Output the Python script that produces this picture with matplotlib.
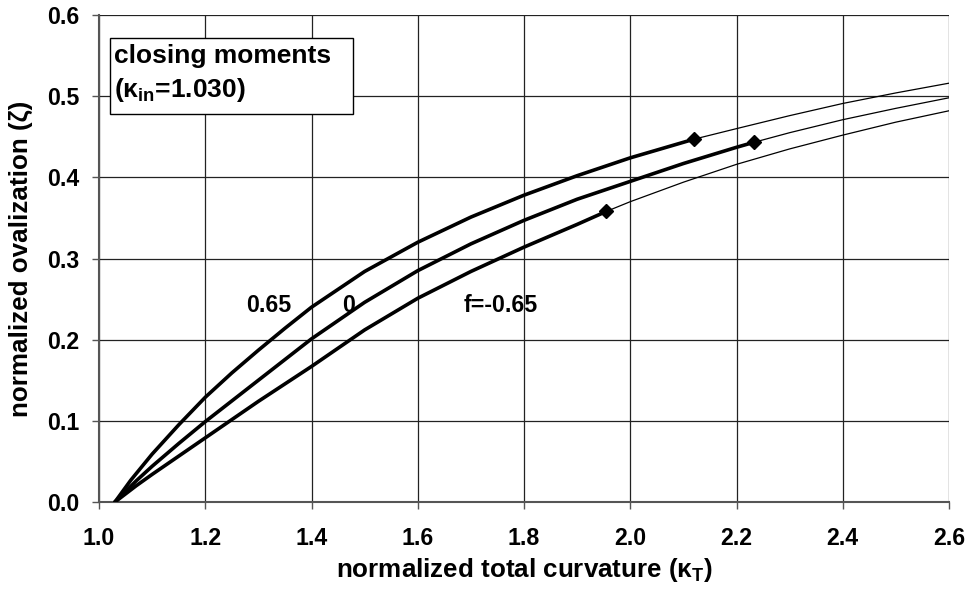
import matplotlib
matplotlib.use("Agg")
import matplotlib.pyplot as plt
from matplotlib.patches import Rectangle

plt.rcParams['font.family'] = ['Liberation Sans', 'DejaVu Sans']
plt.rcParams['font.weight'] = 'bold'
plt.rcParams['mathtext.fontset'] = 'custom'
plt.rcParams['mathtext.rm'] = 'Liberation Sans:bold'
plt.rcParams['mathtext.it'] = 'Liberation Sans:bold'
plt.rcParams['mathtext.bf'] = 'Liberation Sans:bold'

# ---- data ----
# f = 0.65 (upper curve), thick part up to the marker
x_p065 = [1.03, 1.06, 1.10, 1.15, 1.20, 1.25, 1.30, 1.35, 1.40, 1.50, 1.60, 1.70, 1.80, 1.90, 2.00, 2.12]
y_p065 = [0.000, 0.027, 0.059, 0.095, 0.129, 0.159, 0.187, 0.214, 0.240, 0.284, 0.320, 0.351, 0.378, 0.402, 0.424, 0.447]
x_p065_ext = [2.12, 2.20, 2.30, 2.40, 2.50, 2.60]
y_p065_ext = [0.447, 0.460, 0.476, 0.491, 0.504, 0.516]

# f = 0 (middle curve)
x_0 = [1.03, 1.07, 1.10, 1.15, 1.20, 1.30, 1.40, 1.50, 1.60, 1.70, 1.80, 1.90, 2.00, 2.10, 2.20, 2.232]
y_0 = [0.000, 0.026, 0.044, 0.072, 0.099, 0.150, 0.201, 0.246, 0.285, 0.318, 0.347, 0.373, 0.395, 0.417, 0.437, 0.443]
x_0_ext = [2.232, 2.30, 2.40, 2.50, 2.60]
y_0_ext = [0.443, 0.455, 0.471, 0.485, 0.498]

# f = -0.65 (lower curve)
x_m065 = [1.03, 1.07, 1.10, 1.20, 1.30, 1.40, 1.50, 1.60, 1.70, 1.80, 1.90, 1.955]
y_m065 = [0.000, 0.020, 0.034, 0.079, 0.124, 0.167, 0.212, 0.251, 0.284, 0.314, 0.342, 0.358]
x_m065_ext = [1.955, 2.00, 2.10, 2.20, 2.30, 2.40, 2.50, 2.60]
y_m065_ext = [0.358, 0.370, 0.394, 0.416, 0.435, 0.452, 0.468, 0.482]

x_ticks = [1.0, 1.2, 1.4, 1.6, 1.8, 2.0, 2.2, 2.4, 2.6]
y_ticks = [0.0, 0.1, 0.2, 0.3, 0.4, 0.5, 0.6]
curve_labels = ['0.65', '0', 'f=-0.65']

# ---- figure ----
fig = plt.figure(figsize=(9.72, 5.90), dpi=100)
ax = fig.add_axes([99/972, 1-502/590, 850/972, 487/590])

ax.set_xlim(1.0, 2.6)
ax.set_ylim(0.0, 0.6)
ax.set_xticks(x_ticks)
ax.set_yticks(y_ticks)
ax.set_xticklabels([f'{v:.1f}' for v in x_ticks])
ax.set_yticklabels([f'{v:.1f}' for v in y_ticks])
ax.grid(True, color='#222222', linewidth=0.9)
ax.set_axisbelow(True)
for s in ['top', 'right']:
    ax.spines[s].set_visible(False)
for s in ['left', 'bottom']:
    ax.spines[s].set_color('#555555')
    ax.spines[s].set_linewidth(1.5)
ax.tick_params(axis='both', direction='out', length=5, width=1, color='#555555',
               labelsize=16.7)
ax.tick_params(axis='x', pad=13)
ax.tick_params(axis='y', pad=9)

thick = 2.6
thin = 0.9
for xs, ys, xe, ye in [(x_p065, y_p065, x_p065_ext, y_p065_ext),
                       (x_0, y_0, x_0_ext, y_0_ext),
                       (x_m065, y_m065, x_m065_ext, y_m065_ext)]:
    ax.plot(xs, ys, color='black', linewidth=thick, solid_capstyle='round',
            solid_joinstyle='round', zorder=3)
    ax.plot(xe, ye, color='black', linewidth=thin, zorder=3)
    ax.plot([xs[-1]], [ys[-1]], marker='D', markersize=7.5, color='black', zorder=4)

ax.text(1.32, 0.234, curve_labels[0], fontsize=16.7, fontweight='bold', ha='center', va='baseline')
ax.text(1.469, 0.234, curve_labels[1], fontsize=16.7, fontweight='bold', ha='center', va='baseline')
ax.text(1.756, 0.234, curve_labels[2], fontsize=16.7, fontweight='bold', ha='center', va='baseline')

# annotation box
rect = Rectangle((1.0207, 0.4775), 1.4776 - 1.0207, 0.5718 - 0.4775,
                 facecolor='white', edgecolor='black', linewidth=1.0, zorder=5)
ax.add_patch(rect)
ax.text(1.029, 0.5406, 'closing moments', fontsize=19, fontweight='bold',
        ha='left', va='baseline', zorder=6)
ax.text(1.029, 0.4991, r'(κ$_{\mathrm{in}}$=1.030)', fontsize=19, fontweight='bold',
        ha='left', va='baseline', zorder=6)

ax.set_xlabel(r'normalized total curvature (κ$_{\mathrm{T}}$)', fontsize=18.7,
              fontweight='bold', labelpad=4)
ax.set_ylabel('normalized ovalization (ζ)', fontsize=18.7, fontweight='bold', labelpad=10)

fig.savefig('out.png', dpi=100)
